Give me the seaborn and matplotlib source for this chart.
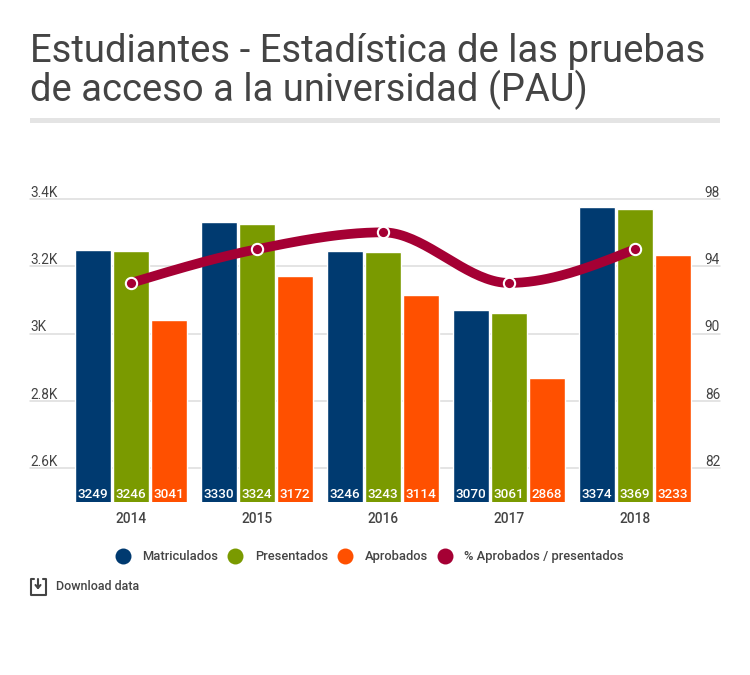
import numpy as np
import pandas as pd
import matplotlib
matplotlib.use('Agg')
from matplotlib import pyplot as plt
from matplotlib.lines import Line2D
from matplotlib.patches import Rectangle
from matplotlib.transforms import ScaledTranslation
import seaborn as sns

years = ['2014', '2015', '2016', '2017', '2018']
matriculados = [3249, 3330, 3246, 3070, 3374]
presentados = [3246, 3324, 3243, 3061, 3369]
aprobados = [3041, 3172, 3114, 2868, 3233]
pct_aprobados = [93, 95, 96, 93, 95]

left_ticks = [2600, 2800, 3000, 3200, 3400]
left_labels = ['2.6K', '2.8K', '3K', '3.2K', '3.4K']
right_ticks = [82, 86, 90, 94, 98]

colors = {'Matriculados': '#003a70', 'Presentados': '#7a9a00', 'Aprobados': '#ff5000'}
line_color = '#a50034'
text_color = '#444444'
grid_color = '#dddddd'

W, H = 750, 675


def fx(px):
    return px / W


def fy(px):
    return 1 - px / H


def monotone_curve(y, n=40):
    # same idea as d3 curveMonotoneX, unit spaced x
    y = np.asarray(y, dtype=float)
    s = np.diff(y)
    m = np.zeros(len(y))
    for i in range(1, len(y) - 1):
        p = (s[i - 1] + s[i]) / 2
        m[i] = (np.sign(s[i - 1]) + np.sign(s[i])) * min(abs(s[i - 1]), abs(s[i]), 0.5 * abs(p))
    m[0] = (3 * s[0] - m[1]) / 2
    m[-1] = (3 * s[-1] - m[-2]) / 2
    xs, ys = [], []
    for i in range(len(y) - 1):
        t = np.linspace(0, 1, n)
        h00 = 2 * t**3 - 3 * t**2 + 1
        h10 = t**3 - 2 * t**2 + t
        h01 = -2 * t**3 + 3 * t**2
        h11 = t**3 - t**2
        xs.append(i + t)
        ys.append(h00 * y[i] + h10 * m[i] + h01 * y[i + 1] + h11 * m[i + 1])
    return np.concatenate(xs), np.concatenate(ys)


sns.set_style('white')
plt.rcParams['font.family'] = ['Roboto', 'DejaVu Sans']

df = pd.DataFrame({'year': years, 'Matriculados': matriculados, 'Presentados': presentados,
                   'Aprobados': aprobados}).melt('year', var_name='serie', value_name='value')

f = plt.figure(figsize=(7.5, 6.75), dpi=100)
ax = f.add_axes([fx(30), fy(502.2), fx(690), (502.2 - 198.6) / H])

sns.barplot(data=df, x='year', y='value', hue='serie', palette=colors, width=0.905, gap=0.035,
            saturation=1, legend=False, ax=ax, zorder=2)
ax.set_xlim((30 - 131) / 126, (720 - 131) / 126)
ax.set_ylim(2500, 3400)
ax.set_xlabel('')
ax.set_ylabel('')
ax.set_yticks(left_ticks)
ax.set_yticklabels(left_labels)
ax.grid(axis='y', color=grid_color, lw=1.1)
ax.grid(axis='x', visible=False)
ax.set_axisbelow(True)
for l in ax.get_ygridlines():
    l.set_clip_on(False)
sns.despine(ax=ax, left=True, bottom=True)

ax.tick_params(axis='x', length=0, pad=7.2, labelsize=9.8, labelcolor=text_color)
ax.tick_params(axis='y', length=0, pad=0, labelsize=9.8, labelcolor=text_color)
up = ScaledTranslation(0, 1.5 / 72, f.dpi_scale_trans)
for lab in ax.get_yticklabels():
    lab.set_ha('left')
    lab.set_va('baseline')
    lab.set_transform(lab.get_transform() + up)
for lab in ax.get_xticklabels():
    lab.set_fontweight('medium')

for cont in ax.containers:
    for bar in cont:
        ax.annotate('%d' % bar.get_height(), (bar.get_x() + bar.get_width() / 2, 2500), xytext=(0, 7.8),
                    textcoords='offset pixels', ha='center', va='center', color='white', fontsize=9.7,
                    fontweight='medium', zorder=3)

ax2 = ax.twinx()
ax2.set_ylim(80, 98)
ax2.set_yticks(right_ticks)
ax2.grid(False)
sns.despine(ax=ax2, left=True, right=True, bottom=True)
ax2.tick_params(axis='y', length=0, pad=0, labelsize=9.8, labelcolor=text_color)
for lab in ax2.get_yticklabels():
    lab.set_ha('right')
    lab.set_va('baseline')
    lab.set_transform(lab.get_transform() + up)

curve_x, curve_y = monotone_curve(pct_aprobados)
ax2.plot(curve_x, curve_y, color=line_color, lw=7, solid_capstyle='butt', zorder=3)
sns.scatterplot(x=np.arange(len(years)), y=pct_aprobados, color=line_color, s=66, edgecolor='white',
                linewidth=1.5, ax=ax2, zorder=4, legend=False)
ax2.set_xlim(ax.get_xlim())
ax2.set_ylabel('')

# heading and rule
f.text(fx(30), fy(62), 'Estudiantes - Estadística de las pruebas', fontsize=27.55, color=text_color, va='baseline')
f.text(fx(30), fy(101), 'de acceso a la universidad (PAU)', fontsize=27.45, color=text_color, va='baseline')
f.add_artist(Rectangle((fx(30), fy(123)), fx(690), 5 / H, transform=f.transFigure, color='#e4e4e4', lw=0))

# legend
handles = [Line2D([], [], ls='', marker='o', ms=11.5, color=c, mew=0) for c in colors.values()]
handles.append(Line2D([], [], ls='', marker='o', ms=11.5, color=line_color, mew=0))
f.legend(handles, list(colors) + ['% Aprobados / presentados'], ncol=4, frameon=False, loc='center',
         bbox_to_anchor=(fx(369.5), fy(556.7)), handletextpad=0.9, columnspacing=0.72, handlelength=1.2,
         prop={'size': 9.3, 'weight': 'medium'}, labelcolor=text_color)

# download link
f.text(fx(55.5), fy(587), 'Download data', fontsize=9, color=text_color, va='center', fontweight='medium')
for xs, ys in [((33.5, 31, 31, 45.5, 45.5, 43), (579, 579, 594.5, 594.5, 579, 579)),
               ((38, 38), (578.5, 587.5)), ]:
    f.add_artist(Line2D([fx(x) for x in xs], [fy(y) for y in ys], transform=f.transFigure, color=text_color,
                        lw=1.5, solid_joinstyle='round'))
f.add_artist(Line2D([fx(35.5), fx(38), fx(40.5)], [fy(585), fy(588), fy(585)], transform=f.transFigure,
                    color=text_color, lw=1.5))

plt.savefig('out.png', dpi=100)
